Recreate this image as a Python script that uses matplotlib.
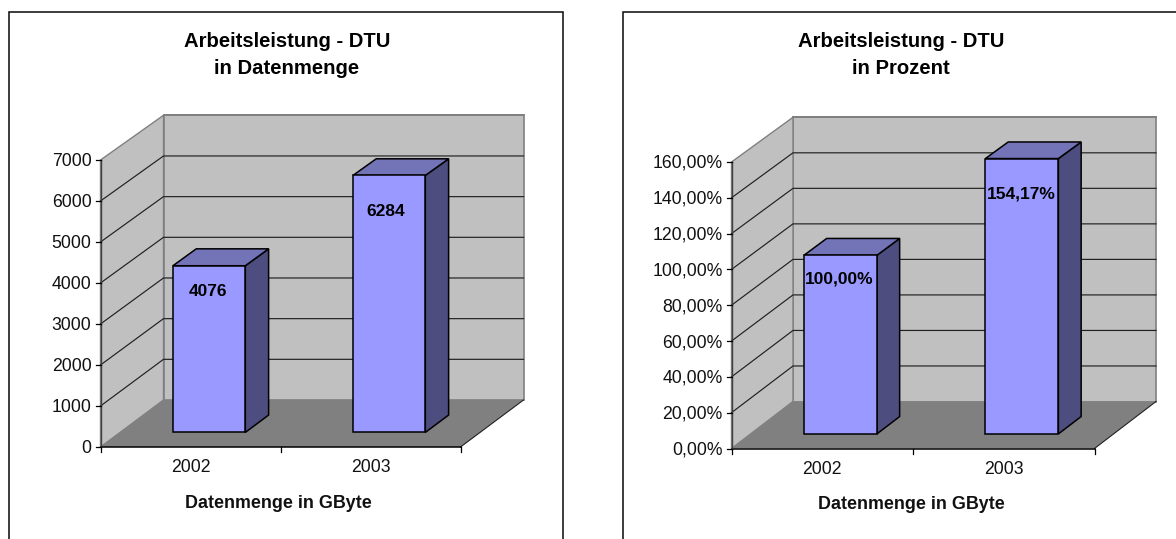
import matplotlib
matplotlib.use("Agg")
import matplotlib.pyplot as plt
from matplotlib.patches import Polygon

plt.rcParams['font.family'] = ['Liberation Sans', 'DejaVu Sans']

years = ["2002", "2003"]

gbyte_values = [4076, 6284]
gbyte_labels = ["4076", "6284"]
gbyte_ticks = [0, 1000, 2000, 3000, 4000, 5000, 6000, 7000]
gbyte_tick_labels = ["0", "1000", "2000", "3000", "4000", "5000", "6000", "7000"]

percent_values = [100.00, 154.17]
percent_labels = ["100,00%", "154,17%"]
percent_ticks = [0, 20, 40, 60, 80, 100, 120, 140, 160]
percent_tick_labels = ["0,00%", "20,00%", "40,00%", "60,00%", "80,00%",
                       "100,00%", "120,00%", "140,00%", "160,00%"]

WALL = "#c0c0c0"
FLOOR = "#808080"
FRONT = "#9999ff"
TOP = "#7373b8"
SIDE = "#4d4d80"

W, H = 1176, 539
fig = plt.figure(figsize=(W / 100, H / 100), dpi=100)
ax = fig.add_axes([0, 0, 1, 1])
ax.set_xlim(0, W)
ax.set_ylim(H, 0)
ax.axis("off")


def draw_chart(frame, x0, y0, width, height, dx, dy, title, title_x, ticks, tick_labels,
               values, labels, label_offsets, bars_x, bar_w, bar_z, bar_d):
    ymax = ticks[-1]

    # 3d-ish projection: x in category units, v in value units, z is depth 0..1
    # the back of the box comes out slightly shorter than the front
    def pr(x, v, z):
        return (x0 + x * width + z * dx,
                y0 - v / ymax * height * (1 - 0.008 * z) - z * dy)

    # chart frame, the bottom edge runs off the page
    ax.plot([frame[0], frame[0], frame[1], frame[1]], [H + 2, 11.5, 11.5, H + 2],
            color="#111111", lw=1.15, solid_joinstyle="miter", zorder=1)

    back = [pr(0, 0, 1), pr(1, 0, 1), pr(1, ymax, 1), pr(0, ymax, 1)]
    left = [pr(0, 0, 0), pr(0, 0, 1), pr(0, ymax, 1), pr(0, ymax, 0)]
    floor = [pr(0, 0, 0), pr(1, 0, 0), pr(1, 0, 1), pr(0, 0, 1)]
    ax.add_patch(Polygon(back, fc=WALL, ec=FLOOR, lw=1.2, zorder=2))
    ax.add_patch(Polygon(left, fc=WALL, ec=FLOOR, lw=1.0, zorder=2))
    ax.add_patch(Polygon(floor, fc=FLOOR, ec="none", zorder=3))

    # gridlines across both walls
    for t in ticks[1:-1]:
        xs, ys = zip(pr(0, t, 0), pr(0, t, 1), pr(1, t, 1))
        ax.plot(xs, ys, color="#202020", lw=0.85, zorder=3)
    xs, ys = zip(pr(0, ymax, 1), pr(1, ymax, 1))
    ax.plot(xs, ys, color=FLOOR, lw=1.4, zorder=3)

    # floor edges
    xs, ys = zip(pr(1, 0, 0), pr(1, 0, 1))
    ax.plot(xs, ys, color="#202020", lw=0.8, zorder=3)

    # axes and ticks
    xs, ys = zip(pr(0, 0, 0), pr(1, 0, 0))
    ax.plot(xs, ys, color="black", lw=1.1, zorder=4)
    xs, ys = zip(pr(0, 0, 0), pr(0, ymax, 0))
    ax.plot(xs, ys, color="#404040", lw=1.0, zorder=4)
    for t, s in zip(ticks, tick_labels):
        px, py = pr(0, t, 0)
        ax.plot([px - 5, px], [py, py], color="black", lw=0.9, zorder=4)
        ax.text(px - 9, py + 1.5, s, ha="right", va="center", fontsize=12.7, color="#111111")
    for i in range(len(years) + 1):
        px, py = pr(i / len(years), 0, 0)
        ax.plot([px, px], [py, py + 5], color="black", lw=0.9, zorder=4)
    for i, year in enumerate(years):
        px, py = pr((i + 0.5) / len(years), 0, 0)
        ax.text(px, py + 20.5, year, ha="center", va="center", fontsize=12.7, color="#111111")

    # bars
    for xb, v, s, off in zip(bars_x, values, labels, label_offsets):
        z0, z1 = bar_z, bar_z + bar_d
        x1 = xb + bar_w
        front = [pr(xb, 0, z0), pr(x1, 0, z0), pr(x1, v, z0), pr(xb, v, z0)]
        top = [pr(xb, v, z0), pr(x1, v, z0), pr(x1, v, z1), pr(xb, v, z1)]
        side = [pr(x1, 0, z0), pr(x1, 0, z1), pr(x1, v, z1), pr(x1, v, z0)]
        for pts, c in ((side, SIDE), (top, TOP), (front, FRONT)):
            ax.add_patch(Polygon(pts, fc=c, ec="black", lw=1.1, joinstyle="miter", zorder=5))
        px, py = pr(xb + bar_w / 2, v, z0)
        ax.text(px + off[0], py + off[1], s, ha="center", va="center", fontsize=12.5,
                fontweight="bold", color="black", zorder=6)

    # titles
    ax.text(title_x, 41.5, title[0], ha="center", va="center", fontsize=14.6, fontweight="bold")
    ax.text(title_x, 69, title[1], ha="center", va="center", fontsize=14.6, fontweight="bold")
    px, py = pr(0.5, 0, 0)
    ax.text(px - 2, py + 56, "Datenmenge in GByte", ha="center", va="center",
            fontsize=12.9, fontweight="bold", color="#111111")


draw_chart((8.5, 562.5), 100.5, 447, 360, 287, 63, 47,
           ("Arbeitsleistung - DTU", "in Datenmenge"), 287,
           gbyte_ticks, gbyte_tick_labels, gbyte_values, gbyte_labels,
           [(-1.5, 26), (-3, 36.5)],
           [0.147, 0.647], 0.201, 0.31, 0.37)

draw_chart((622.5, 1178), 731.5, 448.5, 363, 286.5, 61.5, 47,
           ("Arbeitsleistung - DTU", "in Prozent"), 901,
           percent_ticks, percent_tick_labels, percent_values, percent_labels,
           [(-1, 24), (-1, 35)],
           [0.147, 0.647], 0.201, 0.31, 0.37)

fig.savefig("out.png", dpi=100, facecolor="white")
